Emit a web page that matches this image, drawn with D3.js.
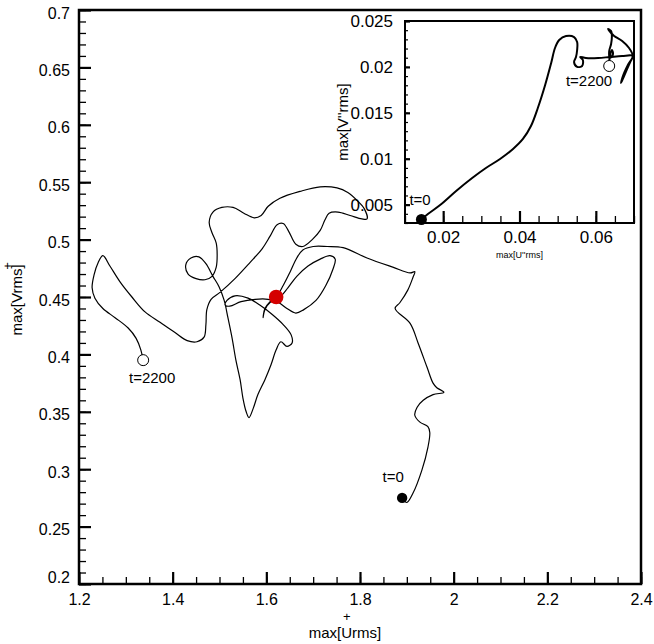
<!DOCTYPE html>
<html>
<head>
<meta charset="utf-8">
<script src="https://cdn.jsdelivr.net/npm/d3@7"></script>
<style>
  body { margin: 0; background: #fff; }
  svg { display: block; font-family: "Liberation Sans", Arial, Helvetica, sans-serif; }
</style>
</head>
<body>
<div id="chart"></div>
<script>
'use strict';

// trajectory in the (max[U+rms], max[V+rms]) plane, t=0 ... t=2200
var urms = [1.890,1.900,1.913,1.932,1.945,1.949,1.945,1.928,1.917,1.922,
  1.935,1.956,1.979,1.964,1.956,1.943,1.924,1.907,1.875,1.885,
  1.902,1.913,1.917,1.907,1.870,1.815,1.764,1.730,1.700,1.678,
  1.665,1.651,1.636,1.621,1.608,1.597,1.593,1.597,1.610,1.629,
  1.646,1.665,1.689,1.715,1.736,1.747,1.742,1.727,1.706,1.680,
  1.663,1.644,1.627,1.604,1.576,1.546,1.522,1.512,1.516,1.533,
  1.561,1.586,1.612,1.636,1.653,1.655,1.644,1.631,1.621,1.610,
  1.597,1.582,1.572,1.563,1.557,1.550,1.544,1.535,1.527,1.518,
  1.510,1.499,1.486,1.471,1.456,1.439,1.428,1.433,1.450,1.469,
  1.484,1.493,1.495,1.493,1.484,1.478,1.486,1.505,1.529,1.552,
  1.574,1.589,1.604,1.629,1.672,1.715,1.751,1.774,1.794,1.809,
  1.815,1.804,1.779,1.753,1.734,1.725,1.715,1.698,1.678,1.663,
  1.648,1.636,1.623,1.608,1.591,1.565,1.533,1.501,1.482,1.473,
  1.471,1.467,1.452,1.431,1.405,1.373,1.341,1.313,1.288,1.266,
  1.251,1.241,1.232,1.228,1.234,1.251,1.277,1.305,1.322,1.332,1.337];
var vrms = [0.275,0.271,0.279,0.299,0.319,0.332,0.337,0.341,0.347,0.354,
  0.360,0.365,0.367,0.371,0.375,0.389,0.410,0.427,0.440,0.445,
  0.456,0.467,0.472,0.471,0.476,0.484,0.493,0.494,0.494,0.491,
  0.484,0.472,0.460,0.450,0.446,0.440,0.432,0.439,0.446,0.450,
  0.458,0.468,0.477,0.483,0.486,0.483,0.474,0.460,0.447,0.439,
  0.436,0.440,0.445,0.448,0.448,0.446,0.442,0.443,0.447,0.451,
  0.449,0.443,0.435,0.426,0.417,0.410,0.407,0.411,0.404,0.391,
  0.378,0.365,0.353,0.345,0.350,0.362,0.378,0.395,0.414,0.432,
  0.447,0.459,0.468,0.479,0.485,0.484,0.478,0.470,0.466,0.465,
  0.468,0.476,0.487,0.497,0.506,0.515,0.524,0.528,0.528,0.523,
  0.519,0.521,0.529,0.536,0.542,0.546,0.545,0.541,0.534,0.527,
  0.518,0.518,0.521,0.524,0.523,0.517,0.508,0.500,0.494,0.496,
  0.507,0.514,0.513,0.503,0.492,0.480,0.466,0.454,0.448,0.439,
  0.426,0.415,0.411,0.412,0.419,0.428,0.437,0.450,0.463,0.477,
  0.486,0.480,0.469,0.458,0.449,0.440,0.432,0.423,0.414,0.404,0.395];

// the marked instant (red dot)
var markU = 1.621, markV = 0.450;

// inset: max[U''rms] vs max[V''rms]
var urmsInset = [0.0143,0.0160,0.0192,0.0234,0.0276,0.0312,0.0349,0.0383,0.0409,0.0430,
  0.0448,0.0467,0.0483,0.0493,0.0504,0.0522,0.0543,0.0551,0.0551,0.0548,
  0.0543,0.0551,0.0564,0.0566,0.0559,0.0574,0.0606,0.0637,0.0669,0.0697,
  0.0684,0.0671,0.0666,0.0674,0.0690,0.0697,0.0687,0.0669,0.0648,0.0640,
  0.0632,0.0640,0.0642,0.0640,0.0635,0.0637,0.0645,0.0642,0.0637,0.0635,0.0635];
var vrmsInset = [0.00338,0.00398,0.00496,0.00649,0.0079,0.00899,0.00997,0.01106,0.01215,0.01356,
  0.01552,0.0180,0.02043,0.02206,0.02293,0.02336,0.02325,0.02271,0.02184,0.02108,
  0.02053,0.02001,0.0201,0.02075,0.02108,0.02097,0.02097,0.02108,0.02119,0.02119,
  0.02021,0.01901,0.01825,0.01901,0.02053,0.02119,0.02206,0.02282,0.02337,0.02369,
  0.02413,0.02391,0.02337,0.02249,0.02172,0.02097,0.0214,0.02184,0.02119,0.02053,0.0201];

var xTicks = [1.2, 1.4, 1.6, 1.8, 2.0, 2.2, 2.4];
var xTickLabels = ["1.2", "1.4", "1.6", "1.8", "2", "2.2", "2.4"];
var yTicks = [0.2, 0.25, 0.3, 0.35, 0.4, 0.45, 0.5, 0.55, 0.6, 0.65, 0.7];
var yTickLabels = ["0.2", "0.25", "0.3", "0.35", "0.4", "0.45", "0.5", "0.55", "0.6", "0.65", "0.7"];
var insetXTicks = [0.02, 0.04, 0.06];
var insetXTickLabels = ["0.02", "0.04", "0.06"];
var insetYTicks = [0.005, 0.01, 0.015, 0.02, 0.025];
var insetYTickLabels = ["0.005", "0.01", "0.015", "0.02", "0.025"];

var W = 654, H = 644;
var margin = {top: 10, right: 13, bottom: 60, left: 79},
  width = W - margin.left - margin.right,
  height = H - margin.top - margin.bottom;

var svg = d3.select("#chart").append("svg")
  .attr("width", W)
  .attr("height", H);

var g = svg.append("g")
  .attr("transform", "translate(" + margin.left + "," + margin.top + ")");

var x = d3.scaleLinear().domain([1.2, 2.4]).range([0, width]),
  y = d3.scaleLinear().domain([0.2, 0.7]).range([height, 0]);

var line = d3.line()
  .x((i) => x(urms[i]))
  .y((i) => y(vrms[i]))
  .curve(d3.curveCatmullRom.alpha(0.5));

g.append("path")
  .attr("d", line(d3.range(urms.length)))
  .attr("fill", "none")
  .attr("stroke", "#000")
  .attr("stroke-width", 1.2)
  .attr("stroke-linejoin", "round");

// minor ticks first, then majors (all pointing inward)
function tickAxis(axis, vals, size, fmt, pad) {
  return axis.tickValues(vals).tickSize(-size).tickSizeOuter(0)
    .tickPadding(pad || 0).tickFormat(fmt || "");
}

var xMinor = d3.range(1.2, 2.4001, 0.05),
  yMinor = d3.range(0.2, 0.7001, 0.01);

g.append("g").attr("transform", "translate(0," + height + ")")
  .call(tickAxis(d3.axisBottom(x), xMinor, 7))
  .call((a) => a.selectAll("line").attr("stroke-width", 1.3));
g.append("g")
  .call(tickAxis(d3.axisLeft(y), yMinor, 7))
  .call((a) => a.selectAll("line").attr("stroke-width", 1.3));

var gx = g.append("g").attr("transform", "translate(0," + height + ")")
  .call(tickAxis(d3.axisBottom(x), xTicks, 12, (d, i) => xTickLabels[i], 10));
var gy = g.append("g")
  .call(tickAxis(d3.axisLeft(y), yTicks, 12, (d, i) => yTickLabels[i], 9));

[gx, gy].forEach(function(a){
  a.attr("font-size", null).attr("font-family", null);
  a.selectAll("line").attr("stroke-width", 2.2);
  a.selectAll("text").style("font-size", "16px").attr("fill", "#000");
});
g.selectAll(".domain").remove();
gy.selectAll("text").attr("dy", (d) => d === 0.2 ? "-0.1em" : "0.5em");

g.append("rect")
  .attr("width", width)
  .attr("height", height)
  .attr("fill", "none")
  .attr("stroke", "#000")
  .attr("stroke-width", 2.5);

// markers
g.append("circle")
  .attr("cx", x(urms[0])).attr("cy", y(vrms[0])).attr("r", 5.2)
  .attr("fill", "#000");
g.append("circle")
  .attr("cx", x(urms[urms.length-1])).attr("cy", y(vrms[vrms.length-1])).attr("r", 5.5)
  .attr("fill", "#fff").attr("stroke", "#000").attr("stroke-width", 1);
g.append("circle")
  .attr("cx", x(markU)).attr("cy", y(markV)).attr("r", 7.3)
  .attr("fill", "#d40000");

g.append("text")
  .attr("x", x(urms[0]) - 9).attr("y", y(vrms[0]) - 16)
  .attr("text-anchor", "middle")
  .style("font-size", "15px")
  .text("t=0");
g.append("text")
  .attr("x", x(urms[urms.length-1]) + 9).attr("y", y(vrms[vrms.length-1]) + 23)
  .attr("text-anchor", "middle")
  .style("font-size", "15px")
  .text("t=2200");

// axis titles, "+" sits above the letter
var xt = svg.append("text")
  .attr("x", 345).attr("y", 638)
  .attr("text-anchor", "middle")
  .style("font-size", "15px")
  .text("max[Urms]");
var xtBox = xt.node().getBBox(),
  uStart = xt.node().getSubStringLength(0, 4),
  uWidth = xt.node().getSubStringLength(4, 1);
svg.append("text")
  .attr("x", xtBox.x + uStart + uWidth / 2).attr("y", 621)
  .attr("text-anchor", "middle")
  .style("font-size", "13px")
  .text("+");

svg.append("text")
  .attr("transform", "translate(22,300) rotate(-90)")
  .attr("text-anchor", "middle")
  .style("font-size", "15px")
  .text("max[Vrms]");
svg.append("text")
  .attr("transform", "translate(12,266) rotate(-90)")
  .attr("text-anchor", "middle")
  .style("font-size", "13px")
  .text("+");

// ---- inset ----
var inset = {left: 405, top: 21, right: 634, bottom: 223};
var ig = svg.append("g")
  .attr("transform", "translate(" + inset.left + "," + inset.top + ")");
var iw = inset.right - inset.left, ih = inset.bottom - inset.top;

var ix = d3.scaleLinear().domain([0.01, 0.07]).range([0, iw]),
  iy = d3.scaleLinear().domain([0.003, 0.025]).range([ih, 0]);

ig.append("rect")
  .attr("width", iw).attr("height", ih)
  .attr("fill", "#fff");

var iline = d3.line()
  .x((i) => ix(urmsInset[i]))
  .y((i) => iy(vrmsInset[i]))
  .curve(d3.curveCatmullRom.alpha(0.5));

ig.append("path")
  .attr("d", iline(d3.range(urmsInset.length)))
  .attr("fill", "none")
  .attr("stroke", "#000")
  .attr("stroke-width", 2)
  .attr("stroke-linejoin", "round");

var ixMinor = d3.range(0.01, 0.0701, 0.005),
  iyMinor = d3.range(0.003, 0.0251, 0.001);

ig.append("g").attr("transform", "translate(0," + ih + ")")
  .call(tickAxis(d3.axisBottom(ix), ixMinor, 7))
  .call((a) => a.selectAll("line").attr("stroke-width", 1.3));
ig.append("g")
  .call(tickAxis(d3.axisLeft(iy), iyMinor, 3))
  .call((a) => a.selectAll("line").attr("stroke-width", 1.2));

var igx = ig.append("g").attr("transform", "translate(0," + ih + ")")
  .call(tickAxis(d3.axisBottom(ix), insetXTicks, 12, (d, i) => insetXTickLabels[i], 8));
var igy = ig.append("g")
  .call(tickAxis(d3.axisLeft(iy), insetYTicks, 5, (d, i) => insetYTickLabels[i], 12));

[igx, igy].forEach(function(a){
  a.attr("font-size", null).attr("font-family", null);
  a.selectAll("line").attr("stroke-width", 2.2);
  a.selectAll("text").style("font-size", "17px").attr("fill", "#000");
});
igy.selectAll("text").attr("dy", "0.35em");
ig.selectAll(".domain").remove();

ig.append("rect")
  .attr("width", iw).attr("height", ih)
  .attr("fill", "none")
  .attr("stroke", "#000")
  .attr("stroke-width", 2);

ig.append("circle")
  .attr("cx", ix(urmsInset[0])).attr("cy", iy(vrmsInset[0])).attr("r", 5.5)
  .attr("fill", "#000");
ig.append("circle")
  .attr("cx", ix(urmsInset[urmsInset.length-1])).attr("cy", iy(vrmsInset[vrmsInset.length-1])).attr("r", 5.5)
  .attr("fill", "#fff").attr("stroke", "#000").attr("stroke-width", 1);

ig.append("text")
  .attr("x", ix(urmsInset[0]) - 12).attr("y", iy(vrmsInset[0]) - 15)
  .style("font-size", "15px")
  .text("t=0");
ig.append("text")
  .attr("x", ix(urmsInset[urmsInset.length-1]) + 3).attr("y", iy(vrmsInset[vrmsInset.length-1]) + 20)
  .attr("text-anchor", "end")
  .style("font-size", "15px")
  .text("t=2200");

svg.append("text")
  .attr("x", (inset.left + inset.right) / 2).attr("y", 258)
  .attr("text-anchor", "middle")
  .style("font-size", "9px")
  .text("max[U''rms]");
svg.append("text")
  .attr("transform", "translate(348," + ((inset.top + inset.bottom) / 2) + ") rotate(-90)")
  .attr("text-anchor", "middle")
  .style("font-size", "15px")
  .text("max[V''rms]");
</script>
</body>
</html>
